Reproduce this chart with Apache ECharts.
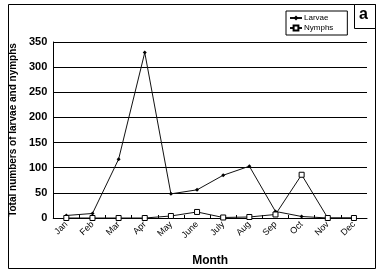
<!DOCTYPE html>
<html>
<head>
	<meta charset="UTF-8">
	<title>Larvae and nymphs</title>
	<script src="https://cdn.jsdelivr.net/npm/echarts@6/dist/echarts.min.js"></script>
	<style>
		html, body { margin: 0; padding: 0; background: #fff; }
		#main { width: 380px; height: 273px; }
	</style>
</head>
<body>
	<div id="main"></div>
	<script type="text/javascript">
		// 数据
		var months = ['Jan', 'Feb', 'Mar', 'Apr', 'May', 'June', 'July', 'Aug', 'Sep', 'Oct', 'Nov', 'Dec'];
		var larvae = [5, 9, 117, 329, 48, 56, 85, 103, 13, 3, 0, 0];
		var nymphs = [0, 0, 0, 0, 4, 12, 1, 2, 7, 86, 0, 0];
		var yTicks = [0, 50, 100, 150, 200, 250, 300, 350];

		var font = 'Liberation Sans, Arial, sans-serif';
		var myChart = echarts.init(document.getElementById('main'));
		var option = {
			animation: false,
			textStyle: { fontFamily: font, color: '#000' },
			graphic: [
				{ type: 'rect', shape: { x: 8.5, y: 4.5, width: 367, height: 264 }, style: { fill: 'none', stroke: '#000', lineWidth: 1 } },
				{ type: 'rect', shape: { x: 354.5, y: 4.5, width: 21, height: 24 }, style: { fill: '#fff', stroke: '#000', lineWidth: 1 } },
				{ type: 'text', left: 359, top: 7, style: { text: 'a', font: 'bold 16px ' + font, fill: '#000' } }
			],
			legend: {
				orient: 'vertical',
				left: 286,
				top: 11,
				width: 61,
				padding: [3, 14, 3, 3],
				itemGap: 2,
				itemWidth: 12,
				itemHeight: 6,
				borderColor: '#000',
				borderWidth: 1,
				textStyle: { fontSize: 8, color: '#000', padding: [0, 0, 0, -3] },
				data: ['Larvae', 'Nymphs']
			},
			grid: { left: 53, right: 13, top: 42, bottom: 55, containLabel: false },
			xAxis: {
				type: 'category',
				data: months,
				boundaryGap: true,
				name: 'Month',
				nameLocation: 'middle',
				nameGap: 37,
				nameTextStyle: { fontSize: 12, fontWeight: 'bold', color: '#000' },
				axisLine: { lineStyle: { color: '#000' } },
				axisTick: { show: true, inside: true, length: 3, lineStyle: { color: '#000' } },
				axisLabel: { rotate: 45, fontSize: 9, color: '#000', margin: 5, interval: 0 }
			},
			yAxis: {
				type: 'value',
				min: yTicks[0],
				max: yTicks[yTicks.length - 1],
				interval: 50,
				name: 'Total numbers of larvae and nymphs',
				nameLocation: 'middle',
				nameGap: 31,
				nameTextStyle: { fontSize: 10, fontWeight: 'bold', color: '#000' },
				axisLine: { show: true, lineStyle: { color: '#000' } },
				axisTick: { show: false },
				axisLabel: { fontSize: 11, fontWeight: 'bold', color: '#000', margin: 6 },
				splitLine: { lineStyle: { color: '#000', width: 1 } }
			},
			series: [{
				name: 'Larvae',
				type: 'line',
				data: larvae,
				symbol: 'diamond',
				symbolSize: 4,
				itemStyle: { color: '#000' },
				lineStyle: { color: '#111', width: 1 }
			}, {
				name: 'Nymphs',
				type: 'line',
				data: nymphs,
				symbol: 'rect',
				symbolSize: 5,
				itemStyle: { color: '#fff', borderColor: '#000', borderWidth: 1 },
				lineStyle: { color: '#111', width: 1 }
			}]
		};
		myChart.setOption(option);
	</script>
</body>
</html>
